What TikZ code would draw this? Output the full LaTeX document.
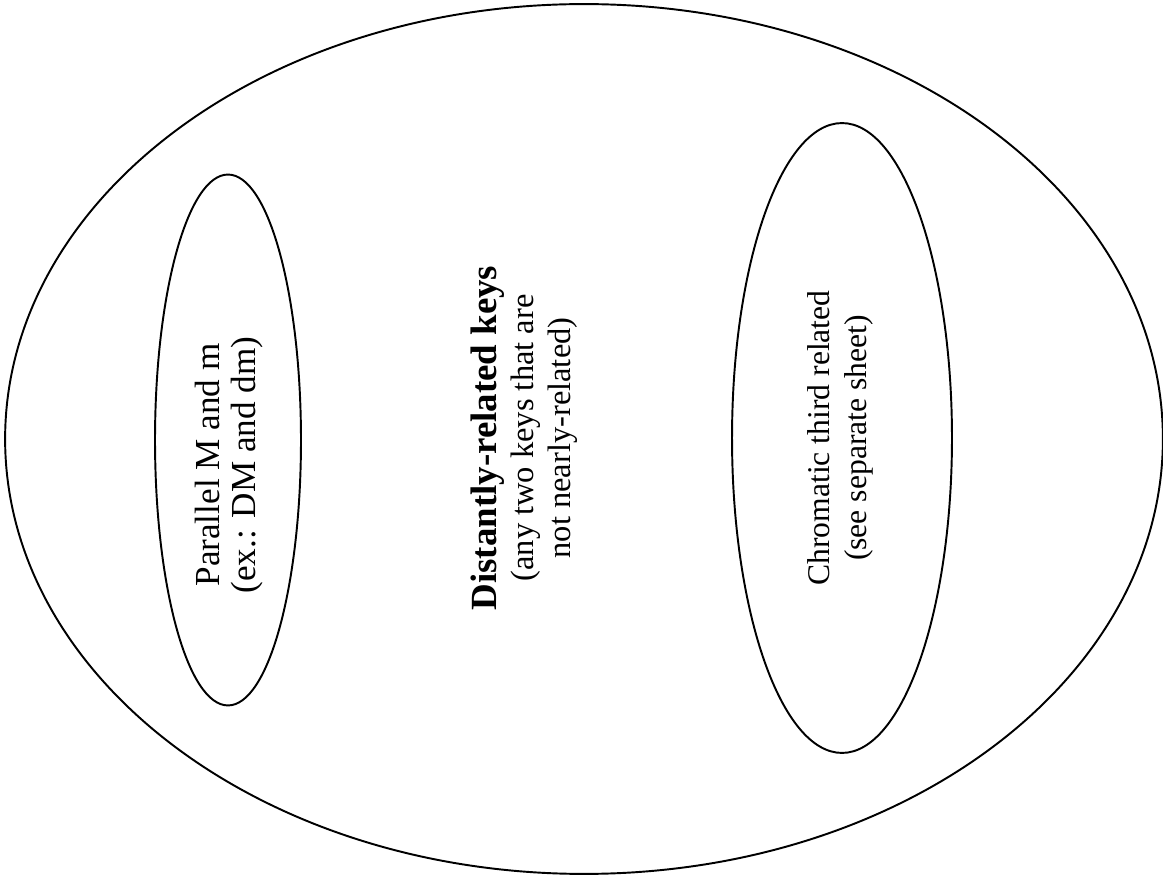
\documentclass[tikz,border=0pt]{standalone}
\usepackage{fontspec}
\setmainfont{Liberation Serif}
\usepackage{tikz}
\usetikzlibrary{shapes.geometric}

\begin{document}
\begin{tikzpicture}[x=0.02cm,y=-0.02cm,
    every node/.style={align=center,font=\fontsize{18.5}{21}\selectfont},
    oval/.style={draw=black,shape=ellipse,line width=1.1pt,inner sep=0pt}]
    \useasboundingbox (0,0) rectangle (1163,881);

    \node (distant)[oval,minimum width=23.16cm,minimum height=17.4cm] at (584,439) {};
    \node (parallel)[oval,minimum width=2.92cm,minimum height=10.62cm] at (228,440) {};
    \node (chromatic)[oval,minimum width=4.4cm,minimum height=12.6cm] at (842,438) {};

    \node (distanttext)[rotate=90] at (524,438) {{\fontsize{21}{22}\selectfont\bfseries Distantly-related keys}\\(any two keys that are\\not nearly-related)};
    \node (paralleltext)[rotate=90,font=\fontsize{20}{21}\selectfont] at (229,465) {Parallel M and m\\(ex.: DM and dm)};
    \node (chromatictext)[rotate=90,font=\fontsize{18}{21}\selectfont] at (840,438) {Chromatic third related\\(see separate sheet)};
\end{tikzpicture}
\end{document}
